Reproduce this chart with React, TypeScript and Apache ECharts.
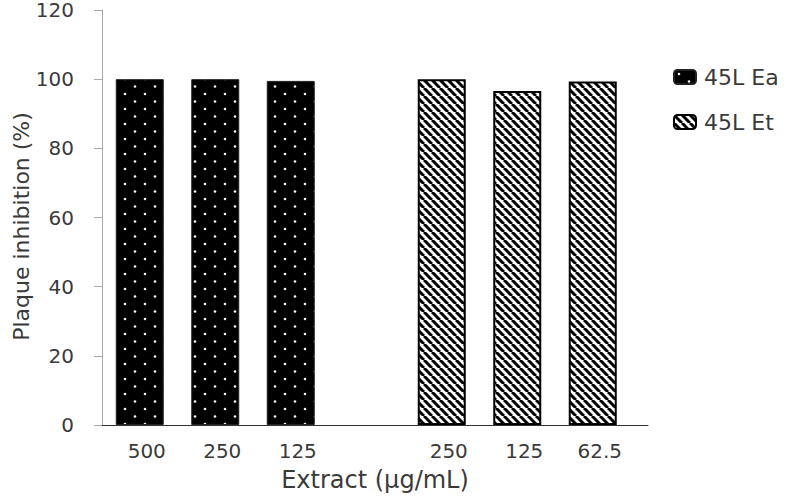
import React, { useEffect, useRef } from "react";
import * as echarts from "echarts";

const categories = ["500", "250", "125", "", "250", "125", "62.5"];
const seriesNames = ["45L Ea", "45L Et"];
const eaValues = [100, 100, 99.5, null, null, null, null];
const etValues = [null, null, null, null, 100, 96.6, 99.3];
const yTicks = { min: 0, max: 120, interval: 20 };
const xName = "Extract (μg/mL)";
const yName = "Plaque inhibition (%)";

const FONT = "DejaVu Sans";
const TEXT = "#3a3a3a";

function dotPattern() {
  const c = document.createElement("canvas");
  c.width = 20;
  c.height = 15;
  const ctx = c.getContext("2d")!;
  ctx.fillStyle = "#000";
  ctx.fillRect(0, 0, 20, 15);
  ctx.fillStyle = "#f4f4f4";
  ctx.beginPath();
  ctx.arc(5, 4, 1.3, 0, Math.PI * 2);
  ctx.fill();
  ctx.beginPath();
  ctx.arc(15, 11.5, 1.3, 0, Math.PI * 2);
  ctx.fill();
  return c;
}

function stripePattern() {
  const s = 8;
  const c = document.createElement("canvas");
  c.width = s;
  c.height = s;
  const ctx = c.getContext("2d")!;
  ctx.fillStyle = "#fff";
  ctx.fillRect(0, 0, s, s);
  ctx.strokeStyle = "#000";
  ctx.lineWidth = 3;
  for (const k of [-s, 0, s]) {
    ctx.beginPath();
    ctx.moveTo(k, 0);
    ctx.lineTo(k + s, s);
    ctx.stroke();
  }
  return c;
}

export default function App() {
  const ref = useRef<HTMLDivElement>(null);
  useEffect(() => {
    if (!ref.current) return;
    const chart = echarts.init(ref.current, undefined, { renderer: "svg" });
    const dots = { image: dotPattern(), repeat: "repeat" };
    const stripes = { image: stripePattern(), repeat: "repeat" };
    chart.setOption({
      animation: false,
      backgroundColor: "#fff",
      legend: {
        data: seriesNames,
        orient: "vertical",
        left: 668,
        top: 61,
        itemWidth: 22,
        itemHeight: 14,
        itemGap: 23,
        textStyle: { fontFamily: FONT, fontSize: 22, color: TEXT, padding: [0, 0, 0, 3] },
      },
      grid: [
        { left: 102, right: 156.5, top: 10, bottom: 71, outerBoundsMode: "none", containLabel: false },
        { left: 102, right: 139, top: 10, bottom: 71, outerBoundsMode: "none", containLabel: false },
      ],
      xAxis: [
        {
          type: "category",
          gridIndex: 0,
          data: categories,
          axisLine: { show: false },
          axisTick: { show: false },
          axisLabel: {
            fontFamily: FONT,
            fontSize: 20,
            color: TEXT,
            margin: 16,
            padding: [0, 0, 0, 14],
            interval: 0,
          },
        },
        {
          type: "value",
          gridIndex: 1,
          min: 0,
          max: 1,
          axisLine: { show: true, onZero: false, lineStyle: { color: "#333", width: 1 } },
          axisTick: { show: false },
          axisLabel: { show: false },
          splitLine: { show: false },
          name: xName,
          nameLocation: "middle",
          nameGap: 43,
          nameMoveOverlap: false,
          nameTextStyle: { fontFamily: FONT, fontSize: 24, color: TEXT },
        },
      ],
      yAxis: [
        {
          type: "value",
          gridIndex: 0,
          min: yTicks.min,
          max: yTicks.max,
          interval: yTicks.interval,
          axisLine: { show: true, lineStyle: { color: "#a6a6a6", width: 1 } },
          axisTick: { show: true, inside: false, length: 8, lineStyle: { color: "#a6a6a6" } },
          axisLabel: { fontFamily: FONT, fontSize: 20, color: TEXT, margin: 28 },
          splitLine: { show: false },
          name: yName,
          nameLocation: "middle",
          nameGap: 70,
          nameMoveOverlap: false,
          nameTextStyle: { fontFamily: FONT, fontSize: 22, color: TEXT, padding: [0, 18, 0, 0] },
        },
        {
          type: "value",
          gridIndex: 1,
          min: 0,
          max: 1,
          show: false,
        },
      ],
      series: [
        {
          name: seriesNames[0],
          type: "bar",
          xAxisIndex: 0,
          yAxisIndex: 0,
          data: eaValues,
          barWidth: 48,
          barGap: "-100%",
          itemStyle: { color: dots, borderColor: "#222", borderWidth: 1 },
        },
        {
          name: seriesNames[1],
          type: "bar",
          xAxisIndex: 0,
          yAxisIndex: 0,
          data: etValues,
          barWidth: 48,
          barGap: "-100%",
          itemStyle: { color: stripes, borderColor: "#000", borderWidth: 2 },
        },
      ],
    });
    return () => chart.dispose();
  }, []);
  return (
    <div
      ref={ref}
      style={{ position: "fixed", left: 0, top: 0, width: 787, height: 496 }}
    />
  );
}
